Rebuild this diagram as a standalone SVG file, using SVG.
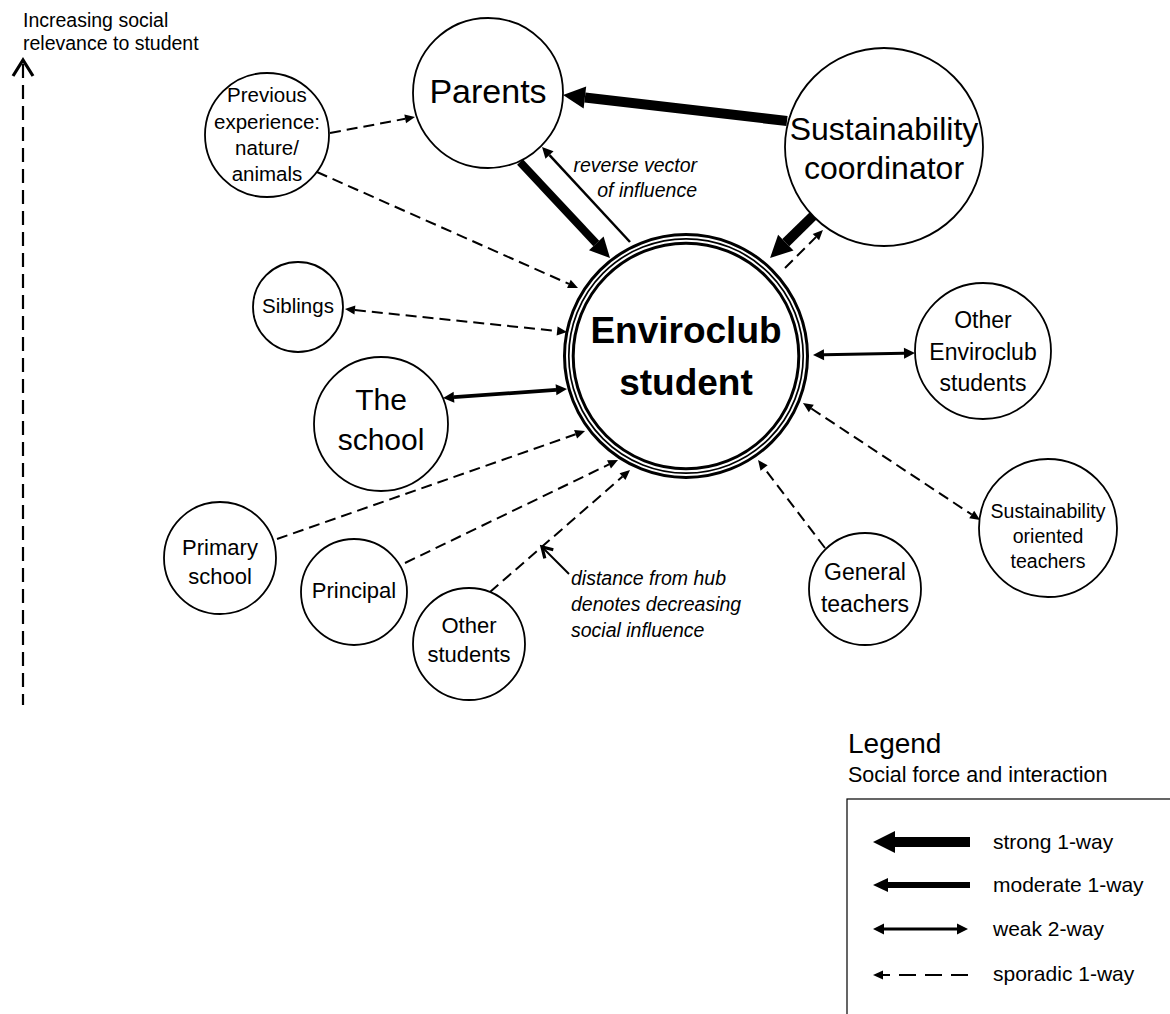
<svg xmlns="http://www.w3.org/2000/svg" width="1170" height="1014" viewBox="0 0 1170 1014">
<style>
text{font-family:"Liberation Sans",Arial,sans-serif;fill:#000}
.node{fill:#fff;stroke:#000;stroke-width:1.8}
.c{text-anchor:middle}
.it{font-style:italic;font-size:19.5px}
.sp{fill:none;stroke:#000;stroke-width:2;stroke-dasharray:11 6}
.so{fill:none;stroke:#000}
</style>
<defs>
<marker id="hStrong" markerUnits="userSpaceOnUse" orient="auto-start-reverse" refX="0" refY="0" markerWidth="30" markerHeight="30" viewBox="-2 -15 30 30" overflow="visible"><path d="M0,-11 L22,0 L0,11 Z" fill="#000"/></marker>
<marker id="hPar" markerUnits="userSpaceOnUse" orient="auto-start-reverse" refX="0" refY="0" markerWidth="30" markerHeight="30" viewBox="-2 -15 30 30" overflow="visible"><path d="M0,-10 L20,0 L0,10 Z" fill="#000"/></marker>
<marker id="hMod" markerUnits="userSpaceOnUse" orient="auto-start-reverse" refX="0" refY="0" markerWidth="30" markerHeight="30" viewBox="-2 -15 30 30" overflow="visible"><path d="M0,-7 L15,0 L0,7 Z" fill="#000"/></marker>
<marker id="hWeak" markerUnits="userSpaceOnUse" orient="auto-start-reverse" refX="0" refY="0" markerWidth="20" markerHeight="20" viewBox="-2 -10 20 20" overflow="visible"><path d="M0,-5.5 L11,0 L0,5.5 Z" fill="#000"/></marker>
<marker id="hSpor" markerUnits="userSpaceOnUse" orient="auto-start-reverse" refX="0" refY="0" markerWidth="20" markerHeight="20" viewBox="-2 -10 20 20" overflow="visible"><path d="M0,-4.5 L10,0 L0,4.5 Z" fill="#000"/></marker>
</defs>

<g id="axis">
<line x1="23" y1="64" x2="23" y2="705" stroke="#000" stroke-width="2.2" stroke-dasharray="14 7"/>
<polyline points="13,76 23,60 33,76" fill="none" stroke="#000" stroke-width="3.2" stroke-linejoin="miter"/>
<text x="23" y="27" font-size="19.5">Increasing social</text>
<text x="23" y="50" font-size="19.5">relevance to student</text>
</g>

<g id="node-student">
<circle cx="686" cy="356" r="121.5" fill="#fff" stroke="#000" stroke-width="3"/>
<circle cx="686" cy="356" r="117.2" fill="none" stroke="#000" stroke-width="1.7"/>
<circle cx="686" cy="356" r="112.8" fill="none" stroke="#000" stroke-width="3"/>
<text class="c" x="686" y="343" font-size="37" font-weight="bold">Enviroclub</text>
<text class="c" x="686" y="395" font-size="37" font-weight="bold">student</text>
</g>

<g id="node-parents">
<circle class="node" cx="488" cy="93" r="75"/>
<text class="c" x="488" y="103" font-size="34">Parents</text>
</g>

<g id="node-coordinator">
<circle class="node" cx="884" cy="147" r="99"/>
<text class="c" x="884" y="140" font-size="32">Sustainability</text>
<text class="c" x="884" y="179" font-size="32">coordinator</text>
</g>

<g id="node-previous">
<circle class="node" cx="267" cy="135" r="62"/>
<text class="c" x="267" y="102" font-size="20.5">Previous</text>
<text class="c" x="267" y="129" font-size="20.5">experience:</text>
<text class="c" x="267" y="155" font-size="20.5">nature/</text>
<text class="c" x="267" y="181" font-size="20.5">animals</text>
</g>

<g id="node-siblings">
<circle class="node" cx="298" cy="307" r="45"/>
<text class="c" x="298" y="313" font-size="20.5">Siblings</text>
</g>

<g id="node-school">
<circle class="node" cx="381" cy="424" r="67"/>
<text class="c" x="381" y="410" font-size="30">The</text>
<text class="c" x="381" y="450" font-size="30">school</text>
</g>

<g id="node-primary">
<circle class="node" cx="220" cy="558" r="56"/>
<text class="c" x="220" y="555" font-size="22">Primary</text>
<text class="c" x="220" y="584" font-size="22">school</text>
</g>

<g id="node-principal">
<circle class="node" cx="354" cy="592" r="53"/>
<text class="c" x="354" y="598" font-size="22">Principal</text>
</g>

<g id="node-other-students">
<circle class="node" cx="469" cy="644" r="56"/>
<text class="c" x="469" y="633" font-size="22">Other</text>
<text class="c" x="469" y="662" font-size="22">students</text>
</g>

<g id="node-other-enviroclub">
<circle class="node" cx="983" cy="351" r="68"/>
<text class="c" x="983" y="328" font-size="23">Other</text>
<text class="c" x="983" y="360" font-size="23">Enviroclub</text>
<text class="c" x="983" y="391" font-size="23">students</text>
</g>

<g id="node-sust-teachers">
<circle class="node" cx="1048" cy="528" r="69"/>
<text class="c" x="1048" y="518" font-size="19.5">Sustainability</text>
<text class="c" x="1048" y="543" font-size="19.5">oriented</text>
<text class="c" x="1048" y="568" font-size="19.5">teachers</text>
</g>

<g id="node-general-teachers">
<circle class="node" cx="865" cy="589" r="56"/>
<text class="c" x="865" y="580" font-size="23">General</text>
<text class="c" x="865" y="612" font-size="23">teachers</text>
</g>

<g id="connectors">
<line class="so" x1="787" y1="121" x2="584.9" y2="97.5" stroke-width="10" marker-end="url(#hStrong)"/>
<line class="so" x1="813" y1="216" x2="785.8" y2="242.6" stroke-width="10" marker-end="url(#hStrong)"/>
<line class="so" x1="520" y1="162" x2="596.3" y2="243.4" stroke-width="8" marker-end="url(#hPar)"/>
<line class="so" x1="630" y1="242" x2="549.5" y2="155.1" stroke-width="2.5" marker-end="url(#hWeak)"/>
<line class="sp" x1="785" y1="268" x2="815.9" y2="237.1" marker-end="url(#hSpor)"/>
<line class="sp" x1="330" y1="133" x2="405.2" y2="118.8" marker-end="url(#hSpor)"/>
<line class="sp" x1="317" y1="172" x2="568.9" y2="283.9" marker-end="url(#hSpor)"/>
<line class="sp" x1="354.9" y1="310" x2="557.1" y2="331" marker-start="url(#hSpor)" marker-end="url(#hSpor)"/>
<line class="so" x1="454" y1="397.2" x2="556" y2="389.8" stroke-width="3.8" marker-start="url(#hWeak)" marker-end="url(#hWeak)"/>
<line class="sp" x1="277" y1="539" x2="575.6" y2="434.3" marker-end="url(#hSpor)"/>
<line class="sp" x1="405" y1="563" x2="609" y2="464.4" marker-end="url(#hSpor)"/>
<line class="sp" x1="490" y1="592" x2="622.5" y2="476.6" marker-end="url(#hSpor)"/>
<line class="sp" x1="825" y1="548" x2="764.1" y2="468" marker-end="url(#hSpor)"/>
<line class="sp" x1="811.3" y1="408.5" x2="971.7" y2="514.5" marker-start="url(#hSpor)" marker-end="url(#hSpor)"/>
<line class="so" x1="824" y1="354.8" x2="904" y2="353.2" stroke-width="3" marker-start="url(#hWeak)" marker-end="url(#hWeak)"/>
<line class="so" x1="569" y1="574" x2="543" y2="548" stroke-width="2"/>
<polyline points="553.3,549.8 542,547 544.8,558.3" fill="none" stroke="#000" stroke-width="3.2"/>
</g>

<g id="annotations">
<text class="it" x="697" y="172" text-anchor="end">reverse vector</text>
<text class="it" x="697" y="197" text-anchor="end">of influence</text>
<text class="it" x="571" y="585">distance from hub</text>
<text class="it" x="571" y="611">denotes decreasing</text>
<text class="it" x="571" y="637">social influence</text>
</g>

<g id="legend">
<text x="848" y="753" font-size="28">Legend</text>
<text x="848" y="782" font-size="21.5">Social force and interaction</text>
<rect x="847" y="799" width="400" height="300" fill="#fff" stroke="#000" stroke-width="1.2"/>
<line class="so" x1="970" y1="842" x2="895" y2="842" stroke-width="10" marker-end="url(#hStrong)"/>
<text x="993" y="849" font-size="21">strong 1-way</text>
<line class="so" x1="970" y1="885" x2="888" y2="885" stroke-width="6" marker-end="url(#hMod)"/>
<text x="993" y="892" font-size="21">moderate 1-way</text>
<line class="so" x1="884" y1="929" x2="957" y2="929" stroke-width="3" marker-start="url(#hWeak)" marker-end="url(#hWeak)"/>
<text x="993" y="936" font-size="21">weak 2-way</text>
<line x1="968" y1="975" x2="883" y2="975" fill="none" stroke="#000" stroke-width="2.2" stroke-dasharray="17 9" marker-end="url(#hSpor)"/>
<text x="993" y="981" font-size="21">sporadic 1-way</text>
</g>
</svg>
